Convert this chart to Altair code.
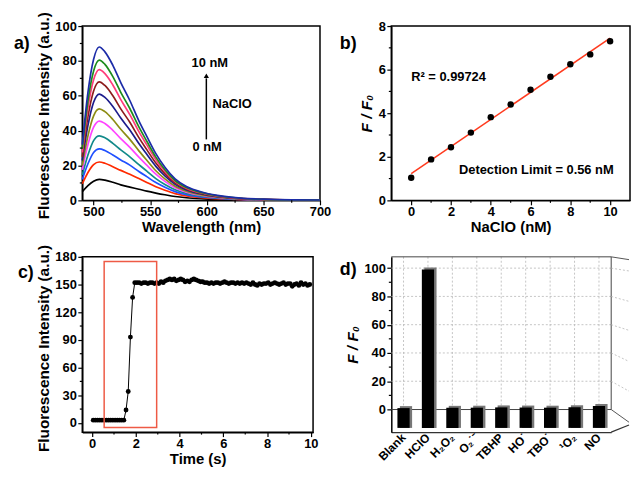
import altair as alt
import pandas as pd

FONT = "Liberation Sans"

# ---------------- panel a: emission spectra ----------------
wavelengths = [490, 495, 500, 505, 510, 517, 524, 532, 540, 547, 555, 563, 572, 582, 598, 614, 630, 650, 675, 700]
conc_labels = ["0 nM", "1 nM", "2 nM", "3 nM", "4 nM", "5 nM", "6 nM", "7 nM", "8 nM", "9 nM", "10 nM"]
spec_0 = [5.0, 8.5, 11.0, 12.0, 11.6, 10.4, 8.9, 7.6, 6.4, 5.3, 4.2, 3.2, 2.2, 1.5, 0.9, 0.5, 0.3, 0.2, 0.1, 0.1]
spec_1 = [9.5, 16.0, 20.5, 22.0, 21.3, 19.3, 17.2, 15.0, 12.5, 10.3, 7.8, 5.8, 3.9, 2.6, 1.4, 0.8, 0.45, 0.25, 0.15, 0.1]
spec_2 = [12.0, 21.0, 27.5, 29.5, 28.6, 26.0, 23.2, 20.2, 16.6, 13.6, 10.2, 7.5, 5.0, 3.3, 1.8, 1.0, 0.55, 0.3, 0.15, 0.1]
spec_3 = [14.5, 26.0, 34.3, 37.0, 35.9, 32.7, 29.0, 25.0, 20.5, 16.8, 12.5, 9.1, 6.1, 4.0, 2.2, 1.2, 0.65, 0.35, 0.2, 0.1]
spec_4 = [17.5, 32.0, 42.0, 45.5, 44.1, 40.2, 35.4, 30.4, 24.8, 20.2, 15.0, 10.9, 7.2, 4.7, 2.6, 1.4, 0.75, 0.4, 0.2, 0.1]
spec_5 = [20.0, 37.0, 48.5, 52.5, 50.9, 46.4, 40.8, 35.0, 28.4, 23.0, 17.0, 12.3, 8.1, 5.3, 2.9, 1.6, 0.85, 0.45, 0.25, 0.15]
spec_6 = [23.0, 43.0, 56.3, 61.0, 59.1, 53.9, 47.2, 40.4, 32.6, 26.4, 19.5, 14.0, 9.2, 6.0, 3.3, 1.8, 0.95, 0.5, 0.25, 0.15]
spec_7 = [25.0, 48.0, 62.8, 68.0, 65.9, 60.0, 52.5, 44.8, 36.0, 29.1, 21.4, 15.3, 10.0, 6.5, 3.6, 2.0, 1.05, 0.55, 0.3, 0.15]
spec_8 = [27.5, 53.0, 69.2, 75.0, 72.7, 66.2, 57.8, 49.2, 39.4, 31.8, 23.3, 16.6, 10.8, 7.0, 3.9, 2.1, 1.1, 0.6, 0.3, 0.2]
spec_9 = [29.5, 57.0, 74.2, 80.5, 78.0, 71.0, 62.0, 52.7, 42.1, 33.9, 24.8, 17.6, 11.4, 7.4, 4.1, 2.2, 1.2, 0.6, 0.3, 0.2]
spec_10 = [32.0, 62.0, 81.0, 88.0, 85.2, 77.5, 67.6, 57.3, 45.6, 36.7, 26.8, 19.0, 12.3, 7.9, 4.4, 2.4, 1.3, 0.7, 0.3, 0.2]
spectra = [spec_0, spec_1, spec_2, spec_3, spec_4, spec_5, spec_6, spec_7, spec_8, spec_9, spec_10]
spec_colors = ["#000000", "#ff2a00", "#2050ff", "#128a8a", "#ff44ff", "#8c8c14",
               "#1c1c8c", "#8c1c1c", "#ff3c7a", "#1c8c1c", "#1c2ca8"]

# ---------------- panel b: linear fit ----------------
nacl_x = [0, 1, 2, 3, 4, 5, 6, 7, 8, 9, 10]
ratio_y = [1.04, 1.88, 2.44, 3.11, 3.82, 4.40, 5.08, 5.67, 6.25, 6.70, 7.30]

# ---------------- panel c: time course ----------------
time_s = [0.05, 0.15, 0.25, 0.35, 0.45, 0.55, 0.65, 0.75, 0.85, 0.95, 1.05, 1.15, 1.25, 1.35, 1.45,
          1.55, 1.65, 1.75, 1.85, 1.95] + [round(2.05 + 0.1 * k, 2) for k in range(80)]
intensity_c = [3, 3, 3, 3, 3, 3, 3, 3, 3, 3, 3, 3, 3, 3, 3,
               14, 34, 93, 136, 152,
               152, 152, 151, 152, 152, 151, 152, 152, 151, 152,
               151, 153, 152, 154, 155, 156, 155, 156, 154, 155,
               156, 155, 153, 154, 153, 155, 156, 155, 154, 153,
               153, 152, 152, 151, 152, 151, 152, 152, 151, 152,
               153, 152, 151, 152, 152, 151, 152, 151, 152, 151,
               152, 151, 150, 152, 150, 149, 151, 150, 151, 151,
               152, 150, 151, 152, 151, 150, 151, 152, 150, 151,
               151, 148, 150, 151, 149, 152, 150, 151, 149, 150]

# ---------------- panel d: selectivity ----------------
species = ["Blank", "HClO", "H₂O₂", "O₂˙⁻", "TBHP", "HO˙", "TBO˙", "¹O₂", "NO"]
ratio_d = [1.0, 99.0, 1.2, 1.3, 1.5, 1.4, 1.3, 1.6, 2.5]
d_grid = [20, 40, 60, 80, 100]
wall_back = [108, 100, 80, 60, 40, 20, 0]
wall_front = [106, 98, 76.5, 56, 34, 13, -9]

# axis tick positions
a_x_major = [500, 550, 600, 650, 700]
a_x_minor = [525, 575, 625, 675]
a_y_major = [0, 20, 40, 60, 80, 100]
a_y_minor = [10, 30, 50, 70, 90]
b_x_major = [0, 2, 4, 6, 8, 10]
b_x_minor = [1, 3, 5, 7, 9]
b_y_major = [0, 2, 4, 6, 8]
b_y_minor = [1, 3, 5, 7]
c_x_major = [0, 2, 4, 6, 8, 10]
c_x_minor = [1, 3, 5, 7, 9]
c_y_major = [0, 30, 60, 90, 120, 150, 180]
c_y_minor = [15, 45, 75, 105, 135, 165]
d_y_major = [0, 20, 40, 60, 80, 100]
d_y_minor = [10, 30, 50, 70, 90]

BLACK = "#000000"
MINOR = 2.5
H1 = 176   # top-row plot height
H2 = 177   # bottom-row plot height


def axis(values, **kw):
    args = dict(values=values, tickCount=50, format="d", tickSize=4.5, labelFlush=False,
                labelOverlap=False, grid=False)
    args.update(kw)
    return alt.Axis(**args)


def xaxis(values):
    return axis(values, titlePadding=1, titleFontSize=15, labelPadding=1)


def minor_y(vals, field, scale):
    return alt.Chart(pd.DataFrame({field: vals})).mark_rule(color=BLACK, strokeWidth=1.2).encode(
        y=alt.Y(f"{field}:Q", scale=scale), x=alt.value(-MINOR), x2=alt.value(0))


def minor_x(vals, field, scale, h):
    return alt.Chart(pd.DataFrame({field: vals})).mark_rule(color=BLACK, strokeWidth=1.2).encode(
        x=alt.X(f"{field}:Q", scale=scale), y=alt.value(h), y2=alt.value(h + MINOR))


def label(txt, px, py):
    return alt.Chart(pd.DataFrame({"t": [txt]})).mark_text(
        text=txt, font=FONT, fontSize=18, fontWeight="bold", align="left", baseline="middle", color=BLACK
    ).encode(x=alt.value(px), y=alt.value(py))


ann = alt.Chart(pd.DataFrame({"k": [0]}))
txt_style = dict(font=FONT, fontSize=13, fontWeight="bold", align="left", baseline="middle", color=BLACK)

# ---- panel a
rows = []
for lab, vals in zip(conc_labels, spectra):
    for w, v in zip(wavelengths, vals):
        rows.append({"wl": w, "I": v, "c": lab})
df_a = pd.DataFrame(rows)
sx_a = alt.Scale(domain=[490, 700], nice=False, zero=False)
sy_a = alt.Scale(domain=[0, 100], nice=False)
xa = alt.X("wl:Q", scale=sx_a, axis=xaxis(a_x_major), title="Wavelength (nm)")
ya = alt.Y("I:Q", scale=sy_a, axis=axis(a_y_major, titlePadding=3, titleY=90), title="Fluorescence Intensity (a.u.)")

lines_a = alt.Chart(df_a).mark_line(strokeWidth=1.7, interpolate="monotone").encode(
    x=xa, y=ya,
    color=alt.Color("c:N", scale=alt.Scale(domain=conc_labels, range=spec_colors), legend=None),
)
t10 = ann.mark_text(text="10 nM", **txt_style).encode(x=alt.XDatum(586.5), y=alt.YDatum(78.6))
tNa = ann.mark_text(text="NaClO", **txt_style).encode(x=alt.XDatum(605), y=alt.YDatum(55))
t0 = ann.mark_text(text="0 nM", **txt_style).encode(x=alt.XDatum(587.4), y=alt.YDatum(30.4))
arrow = ann.mark_rule(color=BLACK, strokeWidth=1.5).encode(
    x=alt.XDatum(599.6), y=alt.YDatum(35), y2=alt.Y2Datum(70))
head = ann.mark_point(shape="triangle-up", filled=True, size=28, color=BLACK, opacity=1).encode(
    x=alt.XDatum(599.6), y=alt.YDatum(71.5))
panel_a = alt.layer(
    lines_a, minor_y(a_y_minor, "I", sy_a), minor_x(a_x_minor, "wl", sx_a, H1),
    t10, tNa, t0, arrow, head, label("a)", -69, 18)
).properties(width=240, height=H1)

# ---- panel b
df_b = pd.DataFrame({"x": nacl_x, "y": ratio_y})
sx_b = alt.Scale(domain=[-1, 11], nice=False)
sy_b = alt.Scale(domain=[0, 8], nice=False)
xb = alt.X("x:Q", scale=sx_b, axis=xaxis(b_x_major), title="NaClO (nM)")
yb = alt.Y("y:Q", scale=sy_b, axis=axis(b_y_major, titlePadding=4, titleFontStyle="italic"), title="F / F₀")
fit_b = alt.Chart(df_b).transform_regression("x", "y", extent=[0, 10]).mark_line(
    color="#ff3b1f", strokeWidth=1.6).encode(x=xb, y=yb)
pts_b = alt.Chart(df_b).mark_circle(size=42, color=BLACK, opacity=1).encode(x=xb, y=yb)
r2 = ann.mark_text(text="R² = 0.99724", **txt_style).encode(x=alt.XDatum(0), y=alt.YDatum(5.67))
dl = ann.mark_text(text="Detection Limit = 0.56 nM", **txt_style).encode(x=alt.XDatum(2.4), y=alt.YDatum(1.41))
panel_b = alt.layer(
    fit_b, pts_b, minor_y(b_y_minor, "y", sy_b), minor_x(b_x_minor, "x", sx_b, H1),
    r2, dl, label("b)", -52, 18)
).properties(width=241, height=H1)

# ---- panel c
df_c = pd.DataFrame({"t": time_s, "v": intensity_c})
sx_c = alt.Scale(domain=[-0.45, 10.1], nice=False, zero=False)
sy_c = alt.Scale(domain=[-10, 180], nice=False, zero=False)
xc = alt.X("t:Q", scale=sx_c, axis=xaxis(c_x_major), title="Time (s)")
yc = alt.Y("v:Q", scale=sy_c, axis=axis(c_y_major, titlePadding=3, titleY=92), title="Fluorescence Intensity (a.u.)")
line_c = alt.Chart(df_c).mark_line(color=BLACK, strokeWidth=1).encode(x=xc, y=yc)
pts_c = alt.Chart(df_c).mark_circle(size=24, color=BLACK, opacity=1).encode(x=xc, y=yc)
box_c = ann.mark_rect(fillOpacity=0, stroke="#ee5a45", strokeWidth=1.5).encode(
    x=alt.XDatum(0.55), x2=alt.X2Datum(2.95), y=alt.YDatum(175), y2=alt.Y2Datum(-5))
panel_c = alt.layer(
    line_c, pts_c, minor_y(c_y_minor, "v", sy_c), minor_x(c_x_minor, "t", sx_c, H2),
    box_c, label("c)", -65, 16)
).properties(width=233, height=H2)

# ---- panel d
df_d = pd.DataFrame({"s": species, "r": ratio_d, "base": [-13] * len(species)})
WD = 222
yd_scale = alt.Scale(domain=[-16, 108], nice=False, zero=False)
xd = alt.X("s:N", sort=species, scale=alt.Scale(paddingInner=0.5, paddingOuter=0.25),
           axis=alt.Axis(labelAngle=315, labelAlign="right", labelBaseline="middle", ticks=False,
                         labelPadding=3, labelFontSize=12, domainColor="#333", domainWidth=1.2, grid=False),
           title=None)
yd = alt.Y("r:Q", scale=yd_scale, axis=axis(d_y_major, titlePadding=3, titleFontStyle="italic"), title="F / F₀")
grid_h = alt.Chart(pd.DataFrame({"r": d_grid})).mark_rule(color="#b5b5b5", strokeDash=[2, 2], strokeWidth=0.8).encode(
    y=alt.Y("r:Q", scale=yd_scale), x=alt.value(0), x2=alt.value(WD))
grid_v = alt.Chart(pd.DataFrame({"s": species})).mark_rule(color="#b5b5b5", strokeDash=[2, 2], strokeWidth=0.8).encode(
    x=alt.X("s:N", sort=species), y=alt.YDatum(108), y2=alt.Y2Datum(0))
zero_d = ann.mark_rule(color="#444", strokeWidth=1).encode(y=alt.YDatum(0), x=alt.value(0), x2=alt.value(WD))
top_d = ann.mark_rule(color="#444", strokeWidth=1).encode(y=alt.YDatum(108), x=alt.value(0), x2=alt.value(WD))
right_d = ann.mark_rule(color="#444", strokeWidth=1).encode(x=alt.value(WD), y=alt.YDatum(108), y2=alt.Y2Datum(0))
df_wall = pd.DataFrame({"b": wall_back, "f": wall_front})
wall_solid = alt.Chart(df_wall).transform_filter("datum.b == 108 || datum.b == 0").mark_rule(
    color="#555", strokeWidth=1).encode(y=alt.Y("b:Q", scale=yd_scale), y2="f:Q", x=alt.value(WD), x2=alt.value(240))
wall_dash = alt.Chart(df_wall).transform_filter("datum.b != 108 && datum.b != 0").mark_rule(
    color="#b5b5b5", strokeDash=[2, 2], strokeWidth=0.8).encode(
    y=alt.Y("b:Q", scale=yd_scale), y2="f:Q", x=alt.value(WD), x2=alt.value(240))
floor_edge = ann.mark_rule(color="#333", strokeWidth=1.2).encode(
    x=alt.value(WD), x2=alt.value(240), y=alt.YDatum(-16), y2=alt.Y2Datum(-11))
shadow_d = alt.Chart(df_d).mark_bar(color="#777", xOffset=2.5, yOffset=-2).encode(x=xd, y=yd, y2="base:Q")
bars_d = alt.Chart(df_d).mark_bar(color=BLACK).encode(x=xd, y=yd, y2="base:Q")
panel_d = alt.layer(
    grid_h, grid_v, zero_d, top_d, right_d, wall_solid, wall_dash, floor_edge,
    shadow_d, bars_d, minor_y(d_y_minor, "r", yd_scale), label("d)", -52, 13)
).properties(width=WD, height=H2, view=alt.ViewBackground(stroke="transparent"))

chart = alt.concat(panel_a, panel_b, panel_c, panel_d, columns=2,
                   spacing={"row": 57, "column": 72}, bounds="flush", align="each").properties(
    padding={"left": 5, "top": 0, "right": 0, "bottom": 0}
).configure_axis(
    labelFont=FONT, labelFontSize=13, labelFontWeight="bold", labelColor=BLACK,
    titleFont=FONT, titleFontSize=15.5, titleFontWeight="bold", titleColor=BLACK,
    domainColor=BLACK, domainWidth=1.5, tickColor=BLACK, tickWidth=1.2, labelPadding=1.5,
).configure_view(stroke=BLACK, strokeWidth=1.5)

chart.save("out.html", embed_options={"renderer": "svg", "actions": False})
